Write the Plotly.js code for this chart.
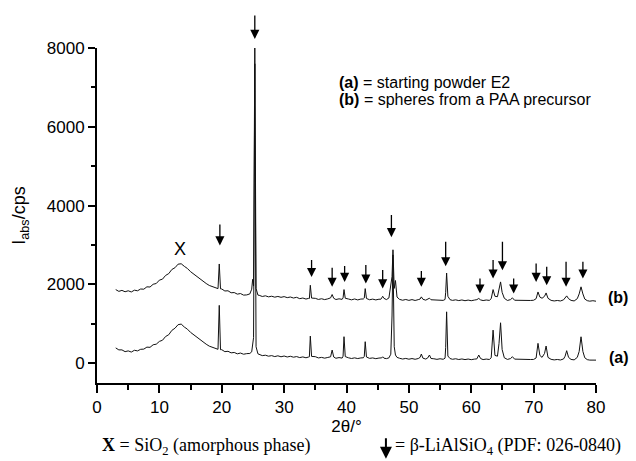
<!DOCTYPE html>
<html>
<head>
<meta charset="utf-8">
<script src="https://cdn.plot.ly/plotly-3.0.1.min.js"></script>
<style>html,body{margin:0;padding:0;background:#fff;}#chart{width:636px;height:461px;}</style>
</head>
<body>
<div id="chart"></div>
<script>
// 2theta grid (degrees), shared by both patterns
const twoTheta = [
  3.0,3.5,4.0,4.5,5.0,5.5,6.0,6.5,7.0,7.5,8.0,8.5,9.0,9.5,10.0,10.5,11.0,11.5,12.0,12.5,13.0,13.5,14.0,14.5,15.0,15.5,16.0,16.5,17.0,17.5,18.0,18.5,19.0,
  19.4,19.6,19.8,
  20.0,20.5,21.0,21.5,22.0,22.5,23.0,23.5,24.0,24.5,
  24.8,24.95,25.1,25.3,25.5,25.8,
  26.0,26.5,27.0,27.5,28.0,28.5,29.0,29.5,30.0,30.5,31.0,31.5,32.0,32.5,33.0,33.5,33.9,
  34.05,34.2,34.4,
  35.0,35.5,36.0,36.5,37.0,37.45,
  37.7,37.95,
  38.3,38.8,39.3,
  39.45,39.6,39.8,
  40.3,40.8,41.3,41.8,42.3,42.7,
  42.85,43.0,43.2,
  43.7,44.2,44.7,45.2,45.5,
  45.65,45.8,46.0,
  46.4,46.8,
  47.1,47.3,47.45,47.65,47.85,48.1,
  48.5,49.0,49.5,50.0,50.5,51.0,51.5,
  51.8,52.0,52.25,
  52.7,53.0,
  53.3,53.55,
  54.0,54.5,55.0,55.5,55.8,
  55.9,56.05,56.25,
  56.6,57.0,57.5,58.0,58.5,59.0,59.5,60.0,60.5,60.9,
  61.2,61.5,
  61.9,62.4,62.9,63.2,
  63.5,63.8,
  64.2,64.45,64.7,64.95,65.3,
  65.8,66.3,
  66.6,66.95,
  67.5,68.0,68.5,69.0,69.5,70.0,70.4,
  70.7,71.0,71.35,
  71.75,72.0,72.3,
  72.8,73.3,73.8,74.3,74.8,
  75.05,75.3,75.6,
  76.0,76.5,77.0,
  77.3,77.6,77.9,78.2,
  78.6,79.0,79.5,80.0
];

// (a) starting powder E2
const intensityA = [
  390,340,340,295,315,285,330,315,355,360,410,405,470,485,555,585,680,725,835,890,980,995,920,865,785,725,645,595,525,485,435,405,375,
  355,1470,345,
  345,295,305,265,275,240,260,230,245,250,
  290,420,650,7600,420,240,
  230,195,205,180,195,170,190,165,185,160,178,155,170,145,162,140,158,
  165,690,175,
  168,136,150,130,148,165,
  336,160,
  128,145,132,
  180,675,170,
  140,122,138,120,136,140,
  175,548,160,
  125,136,117,133,128,
  138,165,130,
  118,138,
  230,1200,2750,420,210,150,
  128,108,124,104,120,102,120,
  150,235,130,
  108,132,
  210,122,
  115,100,115,102,130,
  400,1306,185,
  120,102,115,96,110,94,108,92,106,112,
  210,120,
  94,107,97,140,
  842,200,
  180,500,1028,350,140,
  98,120,
  167,106,
  100,96,96,94,96,98,135,
  506,200,150,
  250,438,150,
  100,86,97,84,110,
  180,320,150,
  98,87,150,
  300,673,300,140,
  93,81,90,80
];

// (b) spheres from a PAA precursor (as plotted, offset)
const intensityB = [
  1870,1825,1850,1815,1840,1810,1855,1840,1885,1880,1940,1935,2005,2025,2110,2135,2230,2275,2380,2425,2515,2525,2460,2405,2325,2265,2185,2135,2065,2025,1975,1950,1915,
  1895,2520,1890,
  1885,1835,1840,1790,1795,1755,1770,1730,1735,1760,
  1880,2130,1960,8000,1900,1730,
  1725,1695,1712,1686,1702,1678,1696,1674,1692,1666,1682,1656,1674,1640,1656,1630,1646,
  1645,1980,1655,
  1648,1620,1638,1616,1635,1660,
  1745,1650,
  1618,1636,1622,
  1660,1870,1650,
  1632,1610,1632,1608,1630,1632,
  1655,1895,1645,
  1612,1628,1608,1626,1625,
  1660,1700,1648,
  1616,1658,
  1950,2200,2880,1900,2100,1680,
  1622,1600,1619,1596,1616,1594,1615,
  1630,1685,1625,
  1602,1625,
  1652,1612,
  1612,1596,1612,1596,1620,
  1800,2290,1700,
  1614,1596,1610,1591,1607,1588,1604,1588,1604,1615,
  1645,1608,
  1592,1606,1596,1640,
  1870,1700,
  1690,1850,2065,1800,1650,
  1594,1616,
  1660,1600,
  1598,1594,1594,1592,1594,1600,1640,
  1810,1680,1650,
  1700,1785,1650,
  1596,1582,1594,1581,1610,
  1650,1710,1640,
  1596,1582,1640,
  1760,1940,1760,1630,
  1589,1576,1588,1575
];

// beta-LiAlSiO4 reflection markers (arrow tip / tail in data units)
const arrowX    = [19.7, 25.3, 34.4, 37.7, 39.7, 43.1, 45.8, 47.2, 52.0, 55.9, 61.4, 63.5, 65.0, 66.8, 70.4, 72.1, 75.2, 77.9];
const arrowTipY = [2990, 8230, 2190, 1940, 2065, 2025, 1900, 3200, 1940, 2460, 1770, 2150, 2360, 1770, 2065, 1980, 1940, 2150];
const arrowTailY= [3560, 8860, 2660, 2460, 2505, 2530, 2405, 3800, 2380, 3120, 2190, 2660, 3120, 2190, 2570, 2490, 2615, 2615];

const xTickVals = [0,10,20,30,40,50,60,70,80];
const yTickVals = [0,2000,4000,6000,8000];

const Y_MIN = -500, Y_MAX = 8000;
const W = 636, H = 461;
const M = {l: 97, r: 40, t: 48, b: 78};
const plotH = H - M.t - M.b;

const sans = 'Liberation Sans, Arial, sans-serif';
const serif = 'Liberation Serif, Times New Roman, serif';

const traces = [
  {x: twoTheta, y: intensityA, type: 'scatter', mode: 'lines', name: '(a)',
   line: {color: '#111', width: 1}},
  {x: twoTheta, y: intensityB, type: 'scatter', mode: 'lines', name: '(b)',
   line: {color: '#111', width: 1}}
];

// arrows: x in data units, y mapped through the y range to paper fraction so that
// markers above the plot area (25.3°) stay visible
const toPaper = v => (v - Y_MIN) / (Y_MAX - Y_MIN);
const annotations = arrowX.map((xv, i) => ({
  x: xv, y: toPaper(arrowTipY[i]), xref: 'x', yref: 'paper',
  ax: 0, ay: -(toPaper(arrowTailY[i]) - toPaper(arrowTipY[i])) * plotH,
  text: '', showarrow: true, arrowhead: 2, arrowsize: 1.4, arrowwidth: 1.3, arrowcolor: '#000'
}));

annotations.push(
  {x: 13.3, y: 2900, xref: 'x', yref: 'y', text: 'X', showarrow: false,
   font: {family: sans, size: 18, color: '#000'}, xanchor: 'center', yanchor: 'middle'},
  {x: 0.48, y: 0.896, xref: 'paper', yref: 'paper', text: '<b>(a)</b> = starting powder E2', showarrow: false,
   font: {family: sans, size: 16, color: '#000'}, xanchor: 'left', yanchor: 'middle'},
  {x: 0.48, y: 0.845, xref: 'paper', yref: 'paper', text: '<b>(b)</b> = spheres from a PAA precursor', showarrow: false,
   font: {family: sans, size: 16, color: '#000'}, xanchor: 'left', yanchor: 'middle'},
  {x: 1.02, y: 0.254, xref: 'paper', yref: 'paper', text: '<b>(b)</b>', showarrow: false,
   font: {family: sans, size: 16, color: '#000'}, xanchor: 'left', yanchor: 'middle'},
  {x: 1.022, y: 0.076, xref: 'paper', yref: 'paper', text: '<b>(a)</b>', showarrow: false,
   font: {family: sans, size: 16, color: '#000'}, xanchor: 'left', yanchor: 'middle'},
  {x: 0.006, y: -0.19, xref: 'paper', yref: 'paper', text: '<b>X</b> = SiO<sub>2</sub> (amorphous phase)', showarrow: false,
   font: {family: serif, size: 18, color: '#000'}, xanchor: 'left', yanchor: 'middle'},
  {x: 0.594, y: -0.19, xref: 'paper', yref: 'paper', text: '= β-LiAlSiO<sub>4</sub> (PDF: 026-0840)', showarrow: false,
   font: {family: serif, size: 18, color: '#000'}, xanchor: 'left', yanchor: 'middle'},
  {x: 0.579, y: -0.226, xref: 'paper', yref: 'paper', text: '', showarrow: true,
   ax: 0, ay: -22, arrowhead: 2, arrowsize: 1.2, arrowwidth: 2, arrowcolor: '#000'}
);

const layout = {
  width: W, height: H,
  margin: M,
  paper_bgcolor: '#fff', plot_bgcolor: '#fff',
  showlegend: false,
  font: {family: sans, size: 17, color: '#000'},
  xaxis: {
    range: [0, 80], tickvals: xTickVals, ticktext: xTickVals.map(String),
    showline: true, linecolor: '#000', linewidth: 2, mirror: false,
    ticks: 'outside', ticklen: 8, tickwidth: 2, tickcolor: '#000',
    minor: {dtick: 5, ticks: 'outside', ticklen: 5, tickwidth: 2, tickcolor: '#000', showgrid: false},
    showgrid: false, zeroline: false,
    tickfont: {family: sans, size: 17, color: '#000'},
    title: {text: '2θ/°', font: {family: sans, size: 17, color: '#000'}, standoff: 4}
  },
  yaxis: {
    range: [Y_MIN, Y_MAX], tickvals: yTickVals, ticktext: yTickVals.map(String),
    showline: true, linecolor: '#000', linewidth: 2, mirror: false,
    ticks: 'outside', ticklen: 7, tickwidth: 2, tickcolor: '#000',
    minor: {dtick: 1000, ticks: 'outside', ticklen: 4, tickwidth: 2, tickcolor: '#000', showgrid: false},
    showgrid: false, zeroline: false,
    tickfont: {family: sans, size: 17, color: '#000'},
    title: {text: 'I<sub>abs</sub>/cps', font: {family: sans, size: 18, color: '#000'}, standoff: 16}
  },
  annotations: annotations
};

Plotly.newPlot('chart', traces, layout, {staticPlot: true, displayModeBar: false});
</script>
</body>
</html>
